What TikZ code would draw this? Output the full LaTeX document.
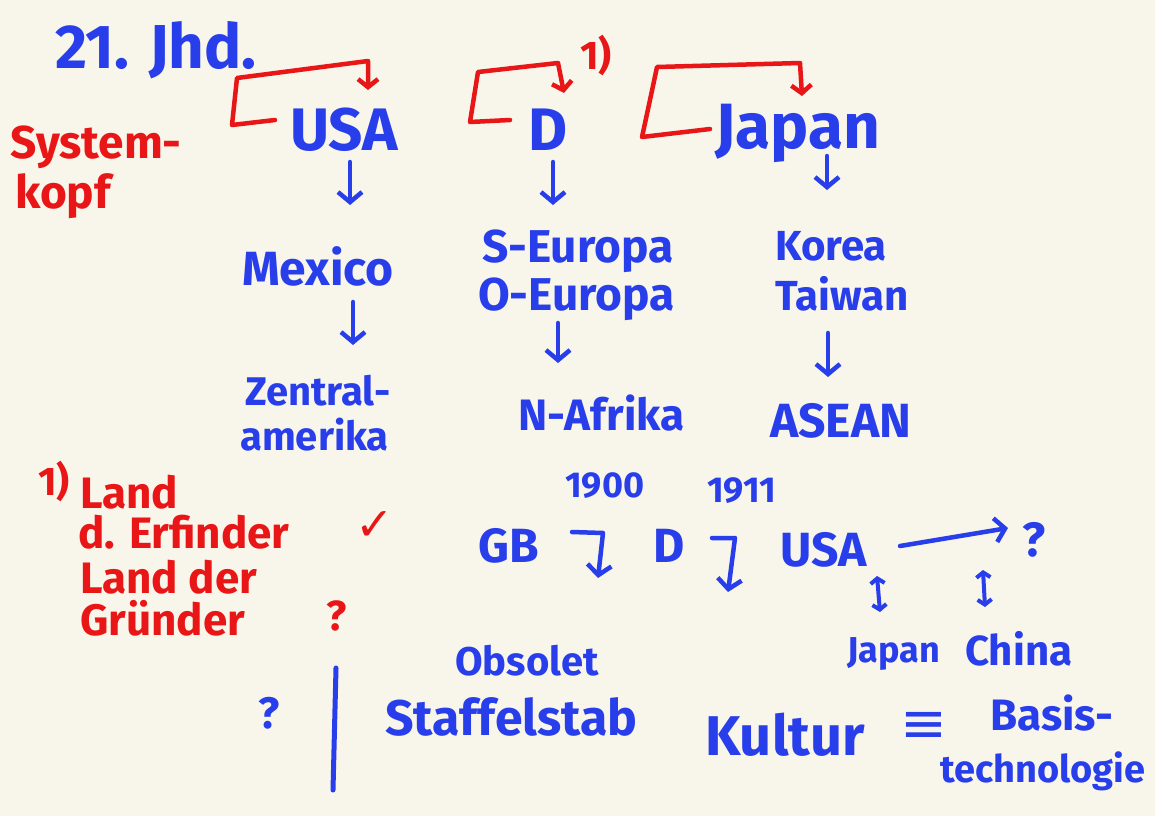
\documentclass[tikz,border=0pt]{standalone}
\usepackage{fontspec}
\setmainfont{Fira Sans}
\newfontfamily\symf{DejaVu Sans}
\usetikzlibrary{arrows.meta,calc}
\definecolor{ink}{RGB}{40,62,235}
\definecolor{rink}{RGB}{232,22,22}
\definecolor{paper}{RGB}{248,245,234}
\newcommand{\fs}[1]{\fontsize{#1}{#1}\selectfont\bfseries}
\tikzset{
  bl/.style={text=ink, inner sep=0pt, anchor=base west, font=\fs{44}},
  rd/.style={text=rink, inner sep=0pt, anchor=base west, font=\fs{44}},
  barr/.style={draw=ink, line width=4.5pt, line cap=round, line join=round, -{Straight Barb[length=10pt,width=24pt,line width=4.5pt]}},
  bline/.style={draw=ink, line width=5pt, line cap=round, line join=round},
  darr/.style={draw=ink, line width=4pt, line cap=round, {Straight Barb[length=5pt,width=14pt,line width=4pt]}-{Straight Barb[length=5pt,width=14pt,line width=4pt]}},
  rarr/.style={draw=rink, line width=4.5pt, line cap=round, line join=round, -{Straight Barb[length=8pt,width=20pt,line width=4.5pt]}},
}
\begin{document}
\begin{tikzpicture}[x=1pt,y=-1pt]
\fill[paper] (0,0) rectangle (1155,816);
\useasboundingbox (0,0) rectangle (1155,816);

% header
\node[bl, font=\fs{62}] (jhd) at (55,68) {21. Jhd.};
\node[rd, font=\fs{46}] (sys1) at (10,158) {System-};
\node[rd, font=\fs{46}] (sys2) at (15,208) {kopf};

% first row
\node[bl, font=\fs{60}] (usa) at (290,150) {USA};
\node[bl, font=\fs{60}] (d) at (528,150) {D};
\node[bl, font=\fs{64}] (japan) at (715,148) {Japan};
\node[rd, font=\fs{40}] (fnA) at (580,70) {1)};

% red loop brackets
\coordinate (u1) at (275,120);
\draw[rarr] (u1) -- (232,125) -- (237,78) -- (368,61) -- ($(usa.base west)+(78,-60)$);
\coordinate (d1) at (510,120);
\draw[rarr] (d1) -- (470,122) -- (478,72) -- (558,63) -- ($(d.base west)+(36,-57)$);
\coordinate (j1) at (710,129);
\draw[rarr] (j1) -- (642,137) .. controls (650,100) .. (657,67) -- (800,63) -- ($(japan.base west)+(87,-52)$);

% second row
\node[bl, font=\fs{48}] (mexico) at (242,285) {Mexico};
\node[bl, font=\fs{46}] (seu) at (482,262) {S-Europa};
\node[bl, font=\fs{46}] (oeu) at (478,310) {O-Europa};
\node[bl, font=\fs{42}] (korea) at (775,260) {Korea};
\node[bl, font=\fs{42}] (taiwan) at (775,310) {Taiwan};

\draw[barr] ($(usa.base west)+(60,12)$) -- ($(mexico.base west)+(108,-80)$);
\draw[barr] ($(d.base west)+(25,12)$) -- ($(seu.base west)+(71,-57)$);
\draw[barr] ($(japan.base west)+(112,8)$) -- ($(korea.base west)+(52,-70)$);

% third row
\node[bl, font=\fs{40}] (zen1) at (245,405) {Zentral-};
\node[bl, font=\fs{40}] (zen2) at (240,450) {amerika};
\node[bl, font=\fs{44}] (nafr) at (518,430) {N-Afrika};
\node[bl, font=\fs{48}] (asean) at (770,437) {ASEAN};

\draw[barr] ($(mexico.base west)+(111,17)$) -- ($(zen1.base west)+(108,-60)$);
\draw[barr] ($(oeu.base west)+(80,13)$) -- ($(nafr.base west)+(40,-67)$);
\draw[barr] ($(taiwan.base west)+(53,23)$) -- ($(asean.base west)+(58,-60)$);

% red footnote
\node[rd, font=\fs{40}] (fn1) at (38,495) {1)};
\node[rd] (land1) at (80,508) {Land};
\node[rd] (erf) at (78,548) {d. Erfinder};
\node[rd, font=\symf\fontsize{46}{46}\selectfont] (chk) at (355,540) {✓};
\node[rd] (land2) at (80,593) {Land der};
\node[rd] (grund) at (80,635) {Gründer};
\node[rd, font=\fs{42}] (q1) at (326,630) {?};

% timeline
\node[bl, font=\fs{36}] (y1900) at (565,497) {1900};
\node[bl, font=\fs{36}] (y1911) at (707,502) {1911};
\node[bl, font=\fs{48}] (gb) at (478,562) {GB};
\node[bl, font=\fs{48}] (d2) at (653,562) {D};
\node[bl, font=\fs{48}] (usa2) at (780,566) {USA};
\node[bl, font=\fs{48}] (q2) at (1022,556) {?};

\draw[barr] ($(gb.base west)+(94,-30)$) -- ($(gb.base west)+(125,-29)$) -- ($(gb.base west)+(120,16)$);
\draw[barr] ($(d2.base west)+(59,-24)$) -- ($(d2.base west)+(82,-24)$) -- ($(d2.base west)+(75,30)$);
\draw[barr] ($(usa2.base west)+(120,-20)$) -- ($(q2.base west)+(-14,-28)$);

\node[bl, font=\fs{36}] (japan2) at (847,662) {Japan};
\node[bl, font=\fs{42}] (china) at (965,665) {China};
\draw[darr] ($(usa2.base west)+(97,10)$) -- ($(japan2.base west)+(33,-50)$);
\draw[darr] ($(q2.base west)+(-39,14)$) -- ($(china.base west)+(20,-58)$);

% bottom
\node[bl, font=\fs{40}] (obs) at (455,675) {Obsolet};
\node[bl, font=\fs{44}] (q3) at (258,728) {?};
\coordinate (bar1) at (336,668);
\coordinate (bar2) at (333,790);
\draw[bline] (bar1) -- (bar2);
\node[bl, font=\fs{50}] (staffel) at (385,735) {Staffelstab};
\node[bl, font=\fs{56}] (kultur) at (705,755) {Kultur};
\node[bl, font=\symf\fontsize{56}{56}\selectfont] (equiv) at (900,742) {≡};
\node[bl, font=\fs{44}] (basis) at (990,730) {Basis-};
\node[bl, font=\fs{38}] (tech) at (940,782) {technologie};
\end{tikzpicture}
\end{document}
